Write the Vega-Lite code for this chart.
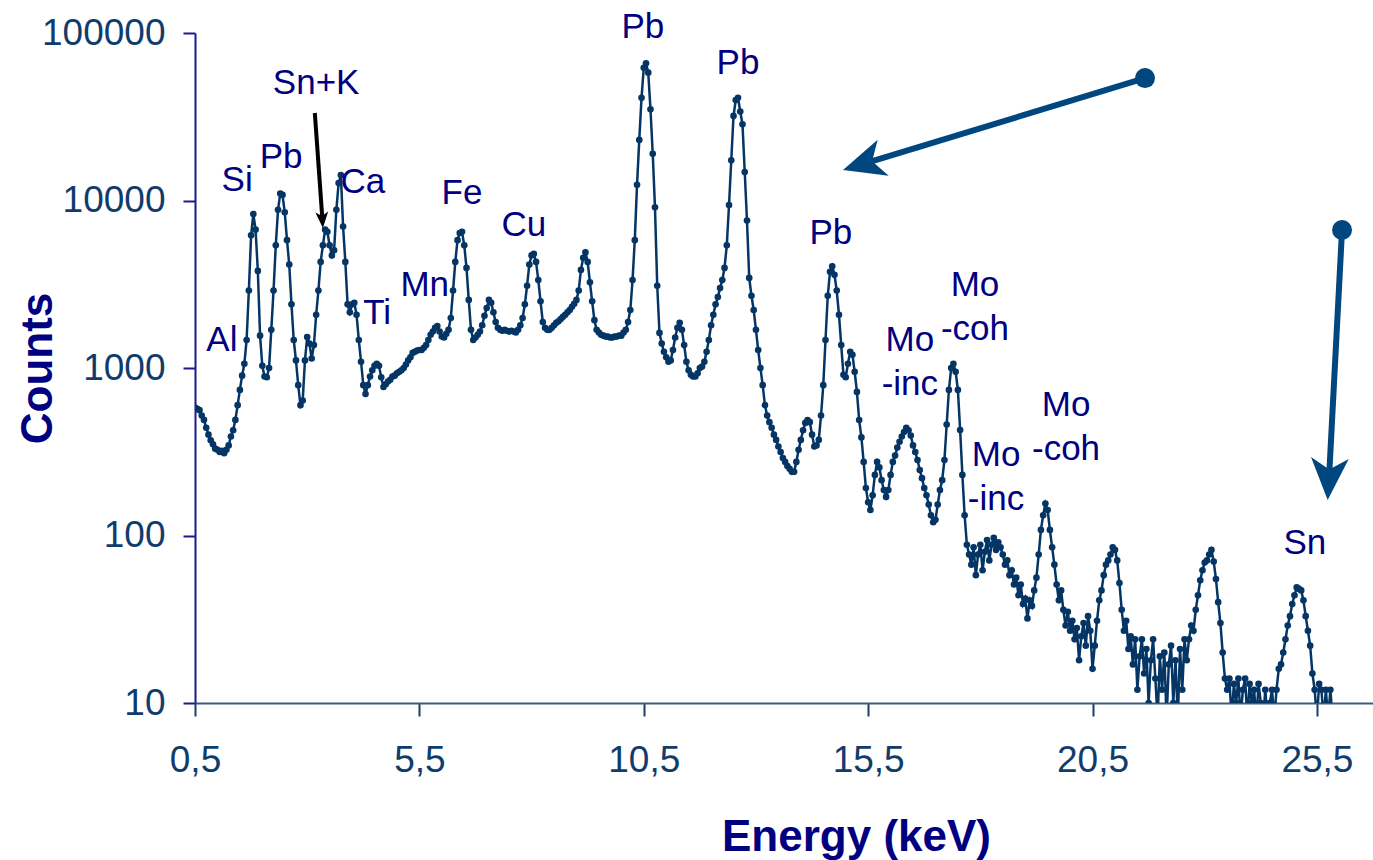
{
"$schema": "https://vega.github.io/schema/vega-lite/v6.json",
"width": 1178, "height": 670,
"autosize": {"type": "none"},
"padding": {"left": 195, "top": 33, "right": 0, "bottom": 157},
"background": "white",
"config": {"view": {"stroke": null}, "font": "Liberation Sans"},
"datasets": {
"spectrum": [
{"e":0.5,"c":580},{"e":0.55,"c":570},{"e":0.6,"c":560},{"e":0.65,"c":520},{"e":0.7,"c":490},{"e":0.75,"c":440},{"e":0.8,"c":400},{"e":0.85,"c":370},{"e":0.9,"c":350},{"e":0.95,"c":330},
{"e":1.0,"c":325},{"e":1.05,"c":315},{"e":1.1,"c":320},{"e":1.15,"c":310},{"e":1.2,"c":325},{"e":1.25,"c":345},{"e":1.3,"c":390},{"e":1.35,"c":425},{"e":1.4,"c":490},{"e":1.45,"c":600},
{"e":1.5,"c":740},{"e":1.55,"c":900},{"e":1.6,"c":1060},{"e":1.65,"c":1470},{"e":1.7,"c":2900},{"e":1.75,"c":6200},{"e":1.8,"c":8300},{"e":1.85,"c":6700},{"e":1.9,"c":3800},{"e":1.95,"c":1560},
{"e":2.0,"c":1030},{"e":2.05,"c":890},{"e":2.1,"c":880},{"e":2.15,"c":1000},{"e":2.2,"c":1690},{"e":2.25,"c":2900},{"e":2.3,"c":5400},{"e":2.35,"c":8800},{"e":2.4,"c":11000},{"e":2.45,"c":10800},
{"e":2.5,"c":8500},{"e":2.55,"c":5800},{"e":2.6,"c":4150},{"e":2.65,"c":2400},{"e":2.7,"c":1470},{"e":2.75,"c":1110},{"e":2.8,"c":790},{"e":2.85,"c":600},{"e":2.9,"c":640},{"e":2.95,"c":1110},
{"e":3.0,"c":1530},{"e":3.05,"c":1400},{"e":3.1,"c":1140},{"e":3.15,"c":1370},{"e":3.2,"c":2080},{"e":3.25,"c":2900},{"e":3.3,"c":4300},{"e":3.35,"c":5400},{"e":3.4,"c":6700},{"e":3.45,"c":6500},
{"e":3.5,"c":5400},{"e":3.55,"c":4700},{"e":3.6,"c":5050},{"e":3.65,"c":8800},{"e":3.7,"c":12700},{"e":3.75,"c":14200},{"e":3.8,"c":7000},{"e":3.85,"c":4300},{"e":3.9,"c":2400},{"e":3.95,"c":2150},
{"e":4.0,"c":2400},{"e":4.05,"c":2450},{"e":4.1,"c":2080},{"e":4.15,"c":1470},{"e":4.2,"c":1090},{"e":4.25,"c":790},{"e":4.3,"c":700},{"e":4.35,"c":790},{"e":4.4,"c":890},{"e":4.45,"c":970},
{"e":4.5,"c":1030},{"e":4.55,"c":1060},{"e":4.6,"c":1030},{"e":4.65,"c":880},{"e":4.7,"c":770},{"e":4.75,"c":800},{"e":4.8,"c":830},{"e":4.85,"c":850},{"e":4.9,"c":890},{"e":4.95,"c":900},
{"e":5.0,"c":930},{"e":5.05,"c":950},{"e":5.1,"c":970},{"e":5.15,"c":1000},{"e":5.2,"c":1050},{"e":5.25,"c":1110},{"e":5.3,"c":1160},{"e":5.35,"c":1230},{"e":5.4,"c":1250},{"e":5.45,"c":1270},
{"e":5.5,"c":1280},{"e":5.55,"c":1280},{"e":5.6,"c":1320},{"e":5.65,"c":1370},{"e":5.7,"c":1470},{"e":5.75,"c":1580},{"e":5.8,"c":1650},{"e":5.85,"c":1740},{"e":5.9,"c":1780},{"e":5.95,"c":1650},
{"e":6.0,"c":1540},{"e":6.05,"c":1520},{"e":6.1,"c":1600},{"e":6.15,"c":1690},{"e":6.2,"c":1990},{"e":6.25,"c":2900},{"e":6.3,"c":4300},{"e":6.35,"c":5800},{"e":6.4,"c":6400},{"e":6.45,"c":6500},
{"e":6.5,"c":5400},{"e":6.55,"c":3960},{"e":6.6,"c":2550},{"e":6.65,"c":1690},{"e":6.7,"c":1470},{"e":6.75,"c":1520},{"e":6.8,"c":1580},{"e":6.85,"c":1650},{"e":6.9,"c":1800},{"e":6.95,"c":2050},
{"e":7.0,"c":2280},{"e":7.05,"c":2550},{"e":7.1,"c":2450},{"e":7.15,"c":2150},{"e":7.2,"c":1880},{"e":7.25,"c":1740},{"e":7.3,"c":1690},{"e":7.35,"c":1670},{"e":7.4,"c":1690},{"e":7.45,"c":1670},
{"e":7.5,"c":1650},{"e":7.55,"c":1670},{"e":7.6,"c":1650},{"e":7.65,"c":1630},{"e":7.7,"c":1690},{"e":7.75,"c":1800},{"e":7.8,"c":1990},{"e":7.85,"c":2400},{"e":7.9,"c":3100},{"e":7.95,"c":4150},
{"e":8.0,"c":4700},{"e":8.05,"c":4800},{"e":8.1,"c":4300},{"e":8.15,"c":3350},{"e":8.2,"c":2500},{"e":8.25,"c":1880},{"e":8.3,"c":1740},{"e":8.35,"c":1690},{"e":8.4,"c":1690},{"e":8.45,"c":1740},
{"e":8.5,"c":1800},{"e":8.55,"c":1860},{"e":8.6,"c":1900},{"e":8.65,"c":1960},{"e":8.7,"c":2020},{"e":8.75,"c":2080},{"e":8.8,"c":2150},{"e":8.85,"c":2220},{"e":8.9,"c":2320},{"e":8.95,"c":2420},
{"e":9.0,"c":2550},{"e":9.05,"c":2900},{"e":9.1,"c":3850},{"e":9.15,"c":4550},{"e":9.2,"c":4900},{"e":9.25,"c":4300},{"e":9.3,"c":3250},{"e":9.35,"c":2500},{"e":9.4,"c":1930},{"e":9.45,"c":1690},
{"e":9.5,"c":1630},{"e":9.55,"c":1580},{"e":9.6,"c":1560},{"e":9.65,"c":1540},{"e":9.7,"c":1540},{"e":9.75,"c":1520},{"e":9.8,"c":1520},{"e":9.85,"c":1540},{"e":9.9,"c":1540},{"e":9.95,"c":1560},
{"e":10.0,"c":1560},{"e":10.05,"c":1630},{"e":10.1,"c":1690},{"e":10.15,"c":1880},{"e":10.2,"c":2220},{"e":10.25,"c":3350},{"e":10.3,"c":5800},{"e":10.35,"c":12400},{"e":10.4,"c":23000},{"e":10.45,"c":41000},
{"e":10.5,"c":62000},{"e":10.55,"c":66000},{"e":10.6,"c":58000},{"e":10.65,"c":35000},{"e":10.7,"c":19000},{"e":10.75,"c":9100},{"e":10.8,"c":3100},{"e":10.85,"c":1620},{"e":10.9,"c":1400},{"e":10.95,"c":1250},
{"e":11.0,"c":1160},{"e":11.05,"c":1090},{"e":11.1,"c":1110},{"e":11.15,"c":1280},{"e":11.2,"c":1520},{"e":11.25,"c":1740},{"e":11.3,"c":1860},{"e":11.35,"c":1690},{"e":11.4,"c":1370},{"e":11.45,"c":1090},
{"e":11.5,"c":970},{"e":11.55,"c":910},{"e":11.6,"c":890},{"e":11.65,"c":890},{"e":11.7,"c":930},{"e":11.75,"c":1000},{"e":11.8,"c":1020},{"e":11.85,"c":1090},{"e":11.9,"c":1250},{"e":11.95,"c":1470},
{"e":12.0,"c":1800},{"e":12.05,"c":2080},{"e":12.1,"c":2400},{"e":12.15,"c":2650},{"e":12.2,"c":3000},{"e":12.25,"c":3350},{"e":12.3,"c":3960},{"e":12.35,"c":5400},{"e":12.4,"c":9400},{"e":12.45,"c":17400},
{"e":12.5,"c":32000},{"e":12.55,"c":39800},{"e":12.6,"c":41000},{"e":12.65,"c":34000},{"e":12.7,"c":28500},{"e":12.75,"c":14800},{"e":12.8,"c":7600},{"e":12.85,"c":3450},{"e":12.9,"c":2700},{"e":12.95,"c":2220},
{"e":13.0,"c":1690},{"e":13.05,"c":1280},{"e":13.1,"c":1000},{"e":13.15,"c":790},{"e":13.2,"c":600},{"e":13.25,"c":520},{"e":13.3,"c":475},{"e":13.35,"c":440},{"e":13.4,"c":400},{"e":13.45,"c":372},
{"e":13.5,"c":340},{"e":13.55,"c":315},{"e":13.6,"c":290},{"e":13.65,"c":275},{"e":13.7,"c":260},{"e":13.75,"c":250},{"e":13.8,"c":240},{"e":13.85,"c":240},{"e":13.9,"c":275},{"e":13.95,"c":325},
{"e":14.0,"c":372},{"e":14.05,"c":425},{"e":14.1,"c":470},{"e":14.15,"c":489},{"e":14.2,"c":475},{"e":14.25,"c":400},{"e":14.3,"c":340},{"e":14.35,"c":345},{"e":14.4,"c":372},{"e":14.45,"c":520},
{"e":14.5,"c":790},{"e":14.55,"c":1470},{"e":14.6,"c":2700},{"e":14.65,"c":3750},{"e":14.7,"c":4050},{"e":14.75,"c":3600},{"e":14.8,"c":2900},{"e":14.85,"c":2080},{"e":14.9,"c":1370},{"e":14.95,"c":910},
{"e":15.0,"c":880},{"e":15.05,"c":1060},{"e":15.1,"c":1250},{"e":15.15,"c":1200},{"e":15.2,"c":950},{"e":15.25,"c":720},{"e":15.3,"c":489},{"e":15.35,"c":385},{"e":15.4,"c":275},{"e":15.45,"c":192},
{"e":15.5,"c":158},{"e":15.55,"c":142},{"e":15.6,"c":174},{"e":15.65,"c":230},{"e":15.7,"c":275},{"e":15.75,"c":255},{"e":15.8,"c":214},{"e":15.85,"c":187},{"e":15.9,"c":170},{"e":15.95,"c":187},
{"e":16.0,"c":230},{"e":16.05,"c":275},{"e":16.1,"c":300},{"e":16.15,"c":335},{"e":16.2,"c":363},{"e":16.25,"c":390},{"e":16.3,"c":415},{"e":16.35,"c":440},{"e":16.4,"c":425},{"e":16.45,"c":395},
{"e":16.5,"c":345},{"e":16.55,"c":315},{"e":16.6,"c":282},{"e":16.65,"c":246},{"e":16.7,"c":220},{"e":16.75,"c":192},{"e":16.8,"c":174},{"e":16.85,"c":153},{"e":16.9,"c":132},{"e":16.95,"c":120},
{"e":17.0,"c":124},{"e":17.05,"c":153},{"e":17.1,"c":187},{"e":17.15,"c":214},{"e":17.2,"c":282},{"e":17.25,"c":460},{"e":17.3,"c":740},{"e":17.35,"c":1000},{"e":17.4,"c":1060},{"e":17.45,"c":950},
{"e":17.5,"c":740},{"e":17.55,"c":426},{"e":17.6,"c":230},{"e":17.65,"c":132},{"e":17.7,"c":88},{"e":17.75,"c":77},{"e":17.8,"c":67},{"e":17.85,"c":85},{"e":17.9,"c":58},{"e":17.95,"c":77},
{"e":18.0,"c":88},{"e":18.05,"c":62},{"e":18.1,"c":80},{"e":18.15,"c":94},{"e":18.2,"c":71},{"e":18.25,"c":88},{"e":18.3,"c":97},{"e":18.35,"c":82},{"e":18.4,"c":91},{"e":18.45,"c":85},
{"e":18.5,"c":77},{"e":18.55,"c":67},{"e":18.6,"c":71},{"e":18.65,"c":58},{"e":18.7,"c":62},{"e":18.75,"c":51},{"e":18.8,"c":56},{"e":18.85,"c":44},{"e":18.9,"c":51},{"e":18.95,"c":39},
{"e":19.0,"c":42},{"e":19.05,"c":32},{"e":19.1,"c":41},{"e":19.15,"c":38},{"e":19.2,"c":47},{"e":19.25,"c":56},{"e":19.3,"c":77},{"e":19.35,"c":108},{"e":19.4,"c":132},{"e":19.45,"c":155},
{"e":19.5,"c":142},{"e":19.55,"c":108},{"e":19.6,"c":85},{"e":19.65,"c":67},{"e":19.7,"c":51},{"e":19.75,"c":41},{"e":19.8,"c":47},{"e":19.85,"c":36},{"e":19.9,"c":29},{"e":19.95,"c":35},
{"e":20.0,"c":27},{"e":20.05,"c":31},{"e":20.1,"c":24},{"e":20.15,"c":28},{"e":20.2,"c":18},{"e":20.25,"c":25},{"e":20.3,"c":30},{"e":20.35,"c":22},{"e":20.4,"c":33},{"e":20.45,"c":27},
{"e":20.5,"c":16},{"e":20.55,"c":22},{"e":20.6,"c":31},{"e":20.65,"c":41},{"e":20.7,"c":47},{"e":20.75,"c":58},{"e":20.8,"c":67},{"e":20.85,"c":71},{"e":20.9,"c":77},{"e":20.95,"c":85},
{"e":21.0,"c":82},{"e":21.05,"c":71},{"e":21.1,"c":52},{"e":21.15,"c":36},{"e":21.2,"c":27},{"e":21.25,"c":31},{"e":21.3,"c":21},{"e":21.35,"c":25},{"e":21.4,"c":17},{"e":21.45,"c":24},
{"e":21.5,"c":12},{"e":21.55,"c":19},{"e":21.6,"c":24},{"e":21.65,"c":15},{"e":21.7,"c":21},{"e":21.75,"c":10},{"e":21.8,"c":18},{"e":21.85,"c":24},{"e":21.9,"c":14},{"e":21.95,"c":8},
{"e":22.0,"c":19},{"e":22.05,"c":12},{"e":22.1,"c":20},{"e":22.15,"c":8},{"e":22.2,"c":17},{"e":22.25,"c":22},{"e":22.3,"c":10},{"e":22.35,"c":18},{"e":22.4,"c":8},{"e":22.45,"c":21},
{"e":22.5,"c":12},{"e":22.55,"c":24},{"e":22.6,"c":18},{"e":22.65,"c":24},{"e":22.7,"c":29},{"e":22.75,"c":27},{"e":22.8,"c":36},{"e":22.85,"c":44},{"e":22.9,"c":54},{"e":22.95,"c":62},
{"e":23.0,"c":69},{"e":23.05,"c":71},{"e":23.1,"c":77},{"e":23.15,"c":82},{"e":23.2,"c":70},{"e":23.25,"c":55},{"e":23.3,"c":40},{"e":23.35,"c":30},{"e":23.4,"c":20},{"e":23.45,"c":14},
{"e":23.5,"c":12},{"e":23.55,"c":14},{"e":23.6,"c":8},{"e":23.65,"c":13},{"e":23.7,"c":10},{"e":23.75,"c":14},{"e":23.8,"c":8},{"e":23.85,"c":12},{"e":23.9,"c":14},{"e":23.95,"c":8},
{"e":24.0,"c":13},{"e":24.05,"c":10},{"e":24.1,"c":12},{"e":24.15,"c":8},{"e":24.2,"c":13},{"e":24.25,"c":10},{"e":24.3,"c":8},{"e":24.35,"c":12},{"e":24.4,"c":8},{"e":24.45,"c":10},
{"e":24.5,"c":12},{"e":24.55,"c":8},{"e":24.6,"c":12},{"e":24.65,"c":16},{"e":24.7,"c":17},{"e":24.75,"c":20},{"e":24.8,"c":24},{"e":24.85,"c":29},{"e":24.9,"c":33},{"e":24.95,"c":39},
{"e":25.0,"c":44},{"e":25.05,"c":49},{"e":25.1,"c":48},{"e":25.15,"c":47},{"e":25.2,"c":41},{"e":25.25,"c":33},{"e":25.3,"c":27},{"e":25.35,"c":22},{"e":25.4,"c":15},{"e":25.45,"c":12},
{"e":25.5,"c":8},{"e":25.55,"c":13},{"e":25.6,"c":12},{"e":25.65,"c":8},{"e":25.7,"c":12},{"e":25.75,"c":8},{"e":25.8,"c":12},{"e":25.85,"c":8}
],
"labels": [
{"e":10.48,"c":108700,"t":"Pb"},{"e":12.6,"c":66200,"t":"Pb"},{"e":3.2,"c":50200,"t":"Sn+K"},{"e":1.44,"c":13240,"t":"Si"},
{"e":2.42,"c":18200,"t":"Pb"},{"e":4.24,"c":12880,"t":"Ca"},{"e":6.45,"c":11090,"t":"Fe"},{"e":7.83,"c":7150,"t":"Cu"},
{"e":14.67,"c":6400,"t":"Pb"},{"e":5.62,"c":3130,"t":"Mn"},{"e":4.56,"c":2130,"t":"Ti"},{"e":1.1,"c":1470,"t":"Al"},
{"e":25.23,"c":90,"t":"Sn"},{"e":17.88,"c":3133,"t":"Mo|-coh"},{"e":16.43,"c":1469,"t":"Mo|-inc"},
{"e":18.35,"c":303,"t":"Mo|-inc"},{"e":19.91,"c":601,"t":"Mo|-coh"}
],
"arrowBlue": [{"e":21.67,"c":53800,"e2":15.41,"c2":16600},{"e":26.06,"c":6670,"e2":25.77,"c2":220}],
"arrowBlack": [{"e":3.17,"c":33300,"e2":3.34,"c2":7650}],
"tipBlue1": [{"e":14.94,"c":15200}],
"tipBlue2": [{"e":25.74,"c":163}],
"tipBlack": [{"e":3.35,"c":6850}]
},
"encoding": {
"x": {"field": "e", "type": "quantitative",
 "scale": {"domain": [0.5, 26.75], "nice": false, "zero": false},
 "axis": {"title": "Energy (keV)", "values": [0.5, 5.5, 10.5, 15.5, 20.5, 25.5],
  "labelExpr": "replace(format(datum.value, '.1f'), '.', ',')",
  "grid": false, "labelFlush": false, "labelOverlap": false,
  "domainColor": "#3d5a80", "domainWidth": 2, "tickColor": "#1f3b66", "tickWidth": 2, "tickSize": 13,
  "labelFont": "Liberation Sans", "labelFontSize": 37, "labelColor": "#103c6c", "labelPadding": 26,
  "titleFont": "Liberation Sans", "titleFontSize": 44, "titleFontWeight": "bold", "titleColor": "#000080",
  "titleX": 661, "titleY": 147, "titleBaseline": "alphabetic", "titleAlign": "center"}},
"y": {"field": "c", "type": "quantitative",
 "scale": {"type": "log", "domain": [10, 100000], "nice": false},
 "axis": {"title": "Counts", "values": [10, 100, 1000, 10000, 100000], "format": "d",
  "grid": false, "labelFlush": false, "labelOverlap": false,
  "domainColor": "#1a1a8c", "domainWidth": 2, "tickColor": "#1a1a8c", "tickWidth": 2, "tickSize": 12,
  "labelFont": "Liberation Sans", "labelFontSize": 37, "labelColor": "#103c6c", "labelPadding": 18,
  "titleFont": "Liberation Sans", "titleFontSize": 44, "titleFontWeight": "bold", "titleColor": "#000080",
  "titleX": -157, "titleY": 335, "titleBaseline": "middle", "titleAlign": "center", "titleAngle": -90}}
},
"layer": [
{"data": {"name": "spectrum"}, "mark": {"type": "line", "color": "#043564", "strokeWidth": 2.5, "clip": true}},
{"data": {"name": "spectrum"}, "mark": {"type": "point", "filled": true, "size": 44, "color": "#043564", "opacity": 1, "clip": true}},
{"data": {"name": "labels"}, "mark": {"type": "text", "font": "Liberation Sans", "fontSize": 35, "color": "#000080", "align": "center", "baseline": "middle", "lineBreak": "|", "lineHeight": 44},
 "encoding": {"text": {"field": "t", "type": "nominal"}}},
{"data": {"name": "arrowBlue"}, "mark": {"type": "rule", "color": "#00467f", "strokeWidth": 6},
 "encoding": {"x2": {"field": "e2"}, "y2": {"field": "c2"}}},
{"data": {"name": "arrowBlue"}, "mark": {"type": "point", "shape": "circle", "filled": true, "size": 400, "color": "#00467f", "opacity": 1}},
{"data": {"name": "arrowBlack"}, "mark": {"type": "rule", "color": "#000000", "strokeWidth": 4},
 "encoding": {"x2": {"field": "e2"}, "y2": {"field": "c2"}}},
{"data": {"name": "tipBlue1"}, "mark": {"type": "point", "shape": "M0,0L0.9,2L0,1.45L-0.9,2Z", "filled": true, "size": 1764, "angle": 253, "color": "#00467f", "opacity": 1}},
{"data": {"name": "tipBlue2"}, "mark": {"type": "point", "shape": "M0,0L0.9,2L0,1.45L-0.9,2Z", "filled": true, "size": 1764, "angle": 183, "color": "#00467f", "opacity": 1}},
{"data": {"name": "tipBlack"}, "mark": {"type": "point", "shape": "M0,0L0.8,2L0,1.5L-0.8,2Z", "filled": true, "size": 256, "angle": 176, "color": "#000000", "opacity": 1}}
]
}
